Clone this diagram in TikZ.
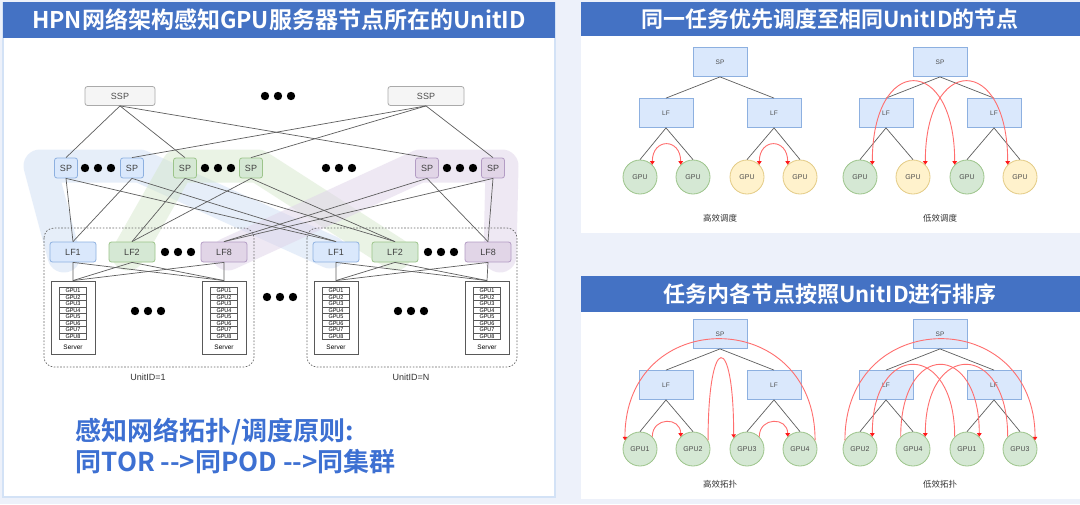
\documentclass[tikz,border=0pt]{standalone}
\usepackage{fontspec}
\setmainfont{Liberation Sans}
\newfontfamily\cjk[BoldFont={* Bold}]{Noto Sans CJK SC}
\usetikzlibrary{arrows.meta, positioning, calc}
\definecolor{titleblue}{HTML}{4472C4}
\definecolor{pagebg}{HTML}{EDF1FA}
\definecolor{panelrim}{HTML}{D3E2F6}
\definecolor{textblue}{HTML}{3D70D2}
\definecolor{boxblue}{HTML}{DAE8FC}
\definecolor{rimblue}{HTML}{8DB0E0}
\definecolor{boxgreen}{HTML}{D5E8D4}
\definecolor{rimgreen}{HTML}{9CC48A}
\definecolor{boxpurple}{HTML}{E1D5E7}
\definecolor{rimpurple}{HTML}{B39CC4}
\definecolor{boxyellow}{HTML}{FFF2CC}
\definecolor{rimyellow}{HTML}{E3CB85}
\definecolor{boxgray}{HTML}{F5F5F5}
\definecolor{rimgray}{HTML}{AAAAAA}
\definecolor{wire}{HTML}{5E5E5E}
\definecolor{hopred}{HTML}{FF6E6E}
\definecolor{tipred}{HTML}{FF1A1A}
\definecolor{blobblue}{HTML}{CFDEF5}
\definecolor{blobgreen}{HTML}{D6E8CC}
\definecolor{blobpurple}{HTML}{DFD3E9}

\begin{document}
\begin{tikzpicture}[x=1pt, y=-1pt,
  title/.style={font=\cjk\bfseries\fontsize{22}{24}\selectfont, text=white},
  blob/.style={line width=33pt, line cap=round, line join=round, opacity=0.5},
  ssp/.style={draw=rimgray, fill=boxgray, rounded corners=2.5pt, minimum width=70pt, minimum height=19pt, inner sep=0pt, line width=0.8pt, font=\fontsize{9}{10}\selectfont, text=black!70},
  sp/.style={rounded corners=2.5pt, minimum width=23pt, minimum height=20pt, inner sep=0pt, line width=0.8pt, font=\fontsize{9}{10}\selectfont, text=black!75},
  lf/.style={sp, minimum width=46pt},
  cblue/.style={draw=rimblue, fill=boxblue},
  cgreen/.style={draw=rimgreen, fill=boxgreen},
  cpurple/.style={draw=rimpurple, fill=boxpurple},
  pod/.style={draw=black!60, dashed, dash pattern=on 1.6pt off 1.6pt, rounded corners=10pt, line width=0.7pt},
  server/.style={draw=black!65, minimum width=44pt, minimum height=73pt, inner sep=0pt, line width=0.9pt},
  gpurow/.style={draw=black!65, minimum width=27pt, minimum height=6.5pt, inner sep=0pt, line width=0.5pt, font=\fontsize{5.5}{6}\selectfont},
  link/.style={draw=wire, line width=0.7pt},
  tbox/.style={draw=rimblue, fill=boxblue, minimum width=54pt, minimum height=29pt, inner sep=0pt, line width=0.8pt, font=\fontsize{6.5}{7}\selectfont, text=black!70},
  gpu/.style={circle, draw=rimgreen, fill=boxgreen, minimum size=34pt, inner sep=0pt, line width=0.8pt, font=\fontsize{7}{8}\selectfont, text=black!70},
  gpuy/.style={gpu, draw=rimyellow, fill=boxyellow},
  tcaption/.style={font=\cjk\fontsize{8.5}{9}\selectfont, text=black!80},
  hop/.style={draw=hopred, line width=0.9pt, >={Triangle[width=4.5pt,length=3.5pt,color=tipred]}},
  threedots/.pic={\fill[black] (-13,0) circle (4.2pt) (0,0) circle (4.2pt) (13,0) circle (4.2pt);}
]
  \useasboundingbox (0,0) rectangle (1080,504);
  \fill[pagebg] (0,0) rectangle (1080,504);

  % Left panel with title bar
  \draw[panelrim, fill=white, line width=2pt] (3,3) rectangle (555,497);
  \fill[titleblue] (3,2) rectangle (555,38);
  \node[title, font=\cjk\bfseries\fontsize{23}{25}\selectfont] (ttlA) at (279,20) {HPN网络架构感知GPU服务器节点所在的UnitID};

  % Right panels with title bars
  \fill[white] (581,36) rectangle (1080,233);
  \fill[titleblue] (581,2) rectangle (1080,36);
  \node[title] (ttlB) at (830,19) {同一任务优先调度至相同UnitID的节点};
  \fill[white] (581,312) rectangle (1080,499);
  \fill[titleblue] (581,276) rectangle (1080,312);
  \node[title] (ttlC) at (830,294) {任务内各节点按照UnitID进行排序};

  % Highlight bands behind the SP groups
  \draw[blob, blobblue] (40,166) -- (140,166) -- (330,252) (40,166) -- (64,256);
  \draw[blob, blobgreen] (178,166) -- (258,166) -- (395,254) (178,166) -- (128,254);
  \draw[blob, blobpurple] (420,166) -- (502,166) -- (500,256) (420,166) -- (228,254);

  % Pods
  \draw[pod] (44,228) rectangle (254,367);
  \draw[pod] (307,228) rectangle (517,367);

  % SSP layer
  \node[ssp] (ssp1) at (120,96) {SSP};
  \node[ssp, minimum width=76pt] (ssp2) at (426,96) {SSP};
  \pic at (278,96) {threedots};

  % SP layer
  \node[sp, cblue] (sp1) at (66,168) {SP};
  \node[sp, cblue] (sp2) at (132,168) {SP};
  \node[sp, cgreen] (sp3) at (185,168) {SP};
  \node[sp, cgreen] (sp4) at (251,168) {SP};
  \node[sp, cpurple] (sp5) at (427,168) {SP};
  \node[sp, cpurple] (sp6) at (493,168) {SP};
  \pic at (98,168) {threedots};
  \pic at (218,168) {threedots};
  \pic at (339,168) {threedots};
  \pic at (460,168) {threedots};

  % LF layer, pod 1 and pod N
  \node[lf, cblue] (lfa1) at (73,252) {LF1};
  \node[lf, cgreen] (lfa2) at (132,252) {LF2};
  \node[lf, cpurple] (lfa8) at (224,252) {LF8};
  \node[lf, cblue] (lfb1) at (336,252) {LF1};
  \node[lf, cgreen] (lfb2) at (395,252) {LF2};
  \node[lf, cpurple] (lfb8) at (488,252) {LF8};
  \pic at (178,252) {threedots};
  \pic at (441,252) {threedots};

  % Servers
  \node[server] (srvA1) at (73,317.5) {};
  \node[server] (srvA2) at (224,317.5) {};
  \node[server] (srvB1) at (336,317.5) {};
  \node[server] (srvB2) at (487,317.5) {};
  \foreach \s in {srvA1,srvA2,srvB1,srvB2}{
    \foreach \i in {1,...,8}
      \node[gpurow] (\s-g\i) at ($(\s.north)+(0,3.75+6.5*\i)$) {GPU\i};
    \node[font=\fontsize{6.5}{7}\selectfont] (\s-lbl) at ($(\s.south)+(0,-7)$) {Server};
  }
  \pic at (148,311) {threedots};
  \pic at (411,311) {threedots};
  \pic at (280,297) {threedots};

  \node[font=\fontsize{9}{10}\selectfont, text=black!80] (uid1) at (148,377) {UnitID=1};
  \node[font=\fontsize{9}{10}\selectfont, text=black!80] (uidN) at (411,377) {UnitID=N};

  % Wiring
  \foreach \t in {sp1,sp3,sp5} \draw[link] (ssp1.south) -- (\t.north);
  \foreach \t in {sp2,sp4,sp6} \draw[link] (ssp2.south) -- (\t.north);
  \foreach \s/\a/\b in {sp1/lfa1/lfb1, sp2/lfa1/lfb1, sp3/lfa2/lfb2, sp4/lfa2/lfb2, sp5/lfa8/lfb8, sp6/lfa8/lfb8}
    \draw[link] (\a.north) -- (\s.south) -- (\b.north);
  \foreach \l in {lfa1,lfa2,lfa8} \draw[link] (srvA1.north) -- (\l.south) -- (srvA2.north);
  \foreach \l in {lfb1,lfb2,lfb8} \draw[link] (srvB1.north) -- (\l.south) -- (srvB2.north);

  % Principle text
  \node[anchor=west, font=\cjk\bfseries\fontsize{26}{28}\selectfont, text=textblue] (rule1) at (72,432) {感知网络拓扑/调度原则:};
  \node[anchor=west, font=\cjk\bfseries\fontsize{26}{28}\selectfont, text=textblue] (rule2) at (72,462) {同TOR -{}-{}>同POD -{}-{}>同集群};

  % Small trees: SP and LF boxes
  \foreach \t/\x/\y in {ha/720/62, la/940/62, hb/720/334, lb/940/334} {
    \node[tbox] (\t-sp) at (\x,\y) {SP};
    \node[tbox] (\t-lf1) at (\x-54,\y+51) {LF};
    \node[tbox] (\t-lf2) at (\x+54,\y+51) {LF};
  }

  % GPUs, scheduling trees
  \node[gpu] (ha-g1) at (640,177) {GPU};
  \node[gpu] (ha-g2) at (693,177) {GPU};
  \node[gpuy] (ha-g3) at (747,177) {GPU};
  \node[gpuy] (ha-g4) at (800,177) {GPU};
  \node[gpu] (la-g1) at (860,177) {GPU};
  \node[gpuy] (la-g2) at (913,177) {GPU};
  \node[gpu] (la-g3) at (967,177) {GPU};
  \node[gpuy] (la-g4) at (1020,177) {GPU};
  \node[tcaption] (ha-cap) at (720,218) {高效调度};
  \node[tcaption] (la-cap) at (940,218) {低效调度};

  % GPUs, ordering trees
  \node[gpu] (hb-g1) at (640,449) {GPU1};
  \node[gpu] (hb-g2) at (693,449) {GPU2};
  \node[gpu] (hb-g3) at (747,449) {GPU3};
  \node[gpu] (hb-g4) at (800,449) {GPU4};
  \node[gpu] (lb-g1) at (860,449) {GPU2};
  \node[gpu] (lb-g2) at (913,449) {GPU4};
  \node[gpu] (lb-g3) at (967,449) {GPU1};
  \node[gpu] (lb-g4) at (1020,449) {GPU3};
  \node[tcaption] (hb-cap) at (720,484) {高效拓扑};
  \node[tcaption] (lb-cap) at (940,484) {低效拓扑};

  \foreach \t in {ha,la,hb,lb} {
    \draw[link] (\t-lf1.north) -- (\t-sp.south) -- (\t-lf2.north);
    \draw[link] (\t-g1.north) -- (\t-lf1.south) -- (\t-g2.north);
    \draw[link] (\t-g3.north) -- (\t-lf2.south) -- (\t-g4.north);
  }

  % Red traffic arcs
  \draw[hop, <->] (ha-g1.45) .. controls +(0,-27) and +(0,-27) .. (ha-g2.135);
  \draw[hop, <->] (ha-g3.45) .. controls +(0,-27) and +(0,-27) .. (ha-g4.135);
  \draw[hop, <->] (la-g1.45) .. controls +(0,-111) and +(0,-111) .. (la-g3.135);
  \draw[hop, <->] (la-g2.45) .. controls +(0,-111) and +(0,-111) .. (la-g4.135);

  \draw[hop, ->] (hb-g1.45) .. controls +(0,-20) and +(0,-20) .. (hb-g2.135);
  \draw[hop, ->] (hb-g2.30) .. controls +(0,-108) and +(0,-108) .. (hb-g3.140);
  \draw[hop, ->] (hb-g3.45) .. controls +(0,-20) and +(0,-20) .. (hb-g4.135);
  \draw[hop, ->] (hb-g4.30) .. controls +(0,-135) and +(0,-135) .. (hb-g1.150);

  \draw[hop, ->] (lb-g1.150) .. controls +(0,-135) and +(0,-135) .. (lb-g4.30);
  \draw[hop, ->] (lb-g4.135) .. controls +(0,-96) and +(0,-96) .. (lb-g2.45);
  \draw[hop, ->] (lb-g2.135) .. controls +(0,-96) and +(0,-96) .. (lb-g3.45);
  \draw[hop, ->] (lb-g3.135) .. controls +(0,-96) and +(0,-96) .. (lb-g1.45);
\end{tikzpicture}
\end{document}
